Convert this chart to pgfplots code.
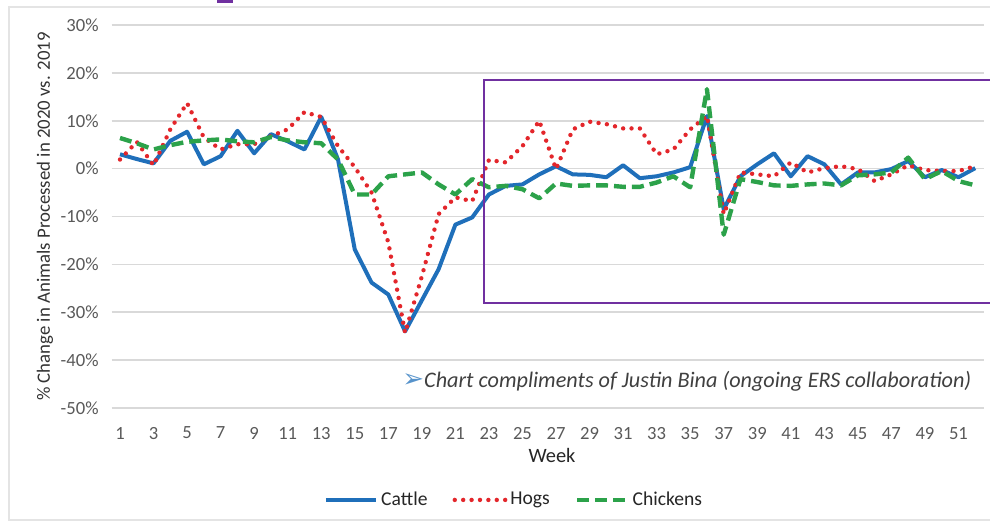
\documentclass[border=0pt]{standalone}
\usepackage{pgfplots}
\pgfplotsset{compat=1.18}
\usepackage{pgfplotstable}
\usepackage{fontspec}
\setmainfont{Carlito}
\newfontfamily\symfont{DejaVu Sans}
\definecolor{cattle}{HTML}{1F6FBA}
\definecolor{hogs}{HTML}{E3262B}
\definecolor{chick}{HTML}{2CA24A}
\definecolor{gridc}{HTML}{D9D9D9}
\definecolor{labc}{HTML}{595959}
\definecolor{purp}{HTML}{7030A0}
\definecolor{framec}{HTML}{E4E4E4}

\pgfplotstableread{
week cattle hogs chick
1 3.0 1.9 6.4
2 2.0 5.6 5.3
3 1.1 0.7 4.0
4 5.8 8.2 4.9
5 7.7 13.7 5.6
6 0.9 6.5 5.9
7 2.6 4.0 6.1
8 7.9 5.1 5.7
9 3.2 5.1 5.5
10 7.2 6.8 6.6
11 5.7 8.2 5.9
12 4.0 11.8 5.5
13 10.8 10.8 5.3
14 1.9 4.7 1.9
15 -16.9 0.3 -5.4
16 -23.8 -5.0 -5.4
17 -26.3 -15.4 -1.6
18 -34.0 -34.3 -1.2
19 -27.5 -22.5 -0.8
20 -21.0 -9.5 -3.3
21 -11.7 -6.0 -5.4
22 -10.2 -6.8 -2.2
23 -5.4 1.8 -3.9
24 -3.6 1.3 -3.6
25 -3.3 4.7 -4.3
26 -1.2 10.0 -6.2
27 0.5 -0.1 -3.1
28 -1.2 8.2 -3.6
29 -1.3 9.8 -3.5
30 -1.8 9.3 -3.5
31 0.7 8.4 -3.8
32 -2.0 8.4 -3.8
33 -1.6 3.0 -2.9
34 -0.8 4.0 -1.6
35 0.3 8.2 -3.9
36 11.0 11.0 16.6
37 -8.5 -9.5 -13.8
38 -1.6 -0.8 -2.2
39 0.9 -1.2 -2.8
40 3.2 -1.6 -3.5
41 -1.6 1.3 -3.6
42 2.6 -0.8 -3.3
43 0.9 0.1 -3.1
44 -3.3 0.5 -3.5
45 -0.8 -0.1 -1.4
46 -0.8 -2.6 -1.2
47 -0.1 -1.2 -0.8
48 1.6 0.7 2.3
49 -1.8 -0.3 -2.2
50 -0.3 -0.5 -0.5
51 -1.8 -0.5 -2.6
52 0.1 0.5 -3.5
}\datatable

\begin{document}
\begin{tikzpicture}
\begin{axis}[
  scale only axis,
  width=436pt, height=191.5pt,
  xmin=0.5, xmax=52.5,
  ymin=-50, ymax=30,
  xtick={1,3,...,51},
  ytick={-50,-40,...,30},
  yticklabel={\pgfmathprintnumber{\tick}\%},
  /pgf/number format/assume math mode=true,
  major tick length=0pt,
  axis line style={draw=none},
  ymajorgrids,
  grid style={gridc, line width=0.8pt},
  tick label style={font=\fontsize{9.3}{11}\selectfont, text=labc},
  yticklabel style={xshift=-3pt},
  xticklabel style={yshift=-6pt},
  clip=false,
  legend style={at={(rel axis cs:0.462,-0.240)}, anchor=center, draw=none,
    font=\fontsize{9.8}{11}\selectfont, text=black!85, legend columns=3,
    /tikz/every even column/.append style={column sep=11pt},
    nodes={inner xsep=1.5pt}},
  legend image code/.code={\draw[#1] (0pt,0pt) -- (25.2pt,0pt);},
]
\coordinate (bbl) at (rel axis cs:-0.128,-0.3003);
\coordinate (btr) at (rel axis cs:1.0073,1.0653);
\draw[framec, line width=1pt] (rel axis cs:1.05,1.047) -- (rel axis cs:-0.1177,1.047) -- (rel axis cs:-0.1177,-0.2924) -- (rel axis cs:1.05,-0.2924);
\addplot[cattle, line width=2pt, line join=round] table[x=week, y=cattle] {\datatable};
\addlegendentry{Cattle}
\addplot[hogs, line width=2.2pt, line cap=round, dash pattern=on 0pt off 4.2pt] table[x=week, y=hogs] {\datatable};
\addlegendentry{Hogs}
\addplot[chick, line width=2.2pt, line join=round, dash pattern=on 6pt off 3pt] table[x=week, y=chick] {\datatable};
\addlegendentry{Chickens}
\draw[purp, line width=0.8pt] (rel axis cs:1.02,0.8564) -- (rel axis cs:0.427,0.8564) -- (rel axis cs:0.427,0.274) -- (rel axis cs:1.02,0.274);
\fill[purp] (rel axis cs:0.121,1.057) rectangle (rel axis cs:0.139,1.07);
\node[rotate=90, anchor=center, font=\fontsize{9.4}{11}\selectfont, text=black!80] at (rel axis cs:-0.0764,0.5) {\% Change in Animals Processed in 2020 vs. 2019};
\node[anchor=center, font=\fontsize{10.2}{12}\selectfont, text=black!85] at (rel axis cs:0.505,-0.1227) {Week};
\node[anchor=west, inner sep=0pt, font=\fontsize{11.1}{13}\selectfont] at (rel axis cs:0.333,0.0705) {{\symfont\color{cattle!75}\fontsize{13}{13}\selectfont ➢}\textcolor{black!75}{\itshape Chart compliments of Justin Bina (ongoing ERS collaboration)}};
\end{axis}
\pgfresetboundingbox
\path[use as bounding box] (bbl) rectangle (btr);
\end{tikzpicture}
\end{document}
